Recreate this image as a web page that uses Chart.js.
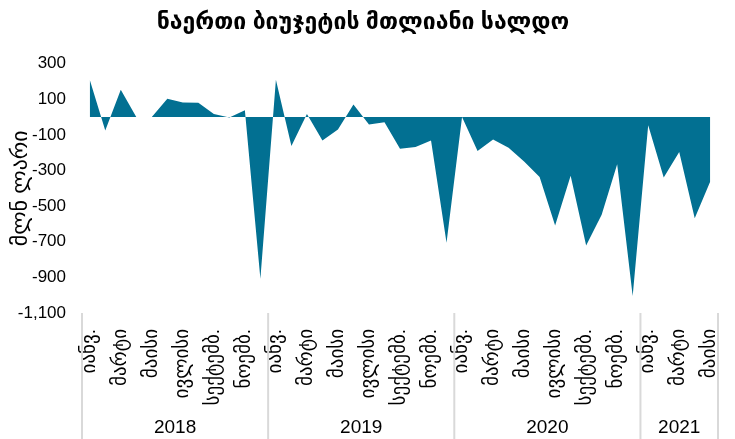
<!DOCTYPE html>
<html>
<head>
<meta charset="utf-8">
<script src="https://cdn.jsdelivr.net/npm/chart.js@4"></script>
<style>
html,body{margin:0;padding:0;background:#fff;}
#wrap{width:735px;height:439px;}
</style>
</head>
<body>
<div id="wrap"><canvas id="c" width="735" height="439"></canvas></div>
<script>
const titleText = 'ნაერთი ბიუჯეტის მთლიანი სალდო';
const yTitle = 'მლნ ლარი';
const monthNames = ['იანვ.','','მარტი','','მაისი','','ივლისი','','სექტემბ.','','ნოემბ.',''];
const years = ['2018','2019','2020','2021'];
const monthsPerYear = [12,12,12,5];
const yTicks = [300,100,-100,-300,-500,-700,-900,-1100];
const values2018 = [210,-75,153,0,0,103,82,80,17,-3,38,-908];
const values2019 = [210,-163,17,-131,-70,70,-42,-29,-178,-168,-131,-706];
const values2020 = [0,-191,-126,-172,-250,-336,-609,-330,-721,-548,-265,-1005];
const values2021 = [-46,-340,-196,-568,-362];

const labels = [];
years.forEach((y,i)=>{ for(let m=0;m<monthsPerYear[i];m++) labels.push(monthNames[m]); });
const values = [].concat(values2018, values2019, values2020, values2021);

const FONT = 'Liberation Sans, Arial, DejaVu Sans, sans-serif';

const yearPlugin = {
  id:'years',
  afterDraw(chart){
    const ctx = chart.ctx, xs = chart.scales.x, area = chart.chartArea;
    const step = xs.getPixelForValue(1) - xs.getPixelForValue(0);
    let start = 0;
    ctx.save();
    ctx.strokeStyle = '#d9d9d9';
    ctx.lineWidth = 2;
    ctx.fillStyle = '#000';
    ctx.font = '19px ' + FONT;
    ctx.textAlign = 'center';
    ctx.textBaseline = 'middle';
    const drawSep = (x)=>{ ctx.beginPath(); ctx.moveTo(x, area.bottom); ctx.lineTo(x, chart.height); ctx.stroke(); };
    years.forEach((y,i)=>{
      const x0 = xs.getPixelForValue(start) - step/2;
      const x1 = xs.getPixelForValue(start + monthsPerYear[i]-1) + step/2;
      drawSep(x0);
      if(i===years.length-1) drawSep(x1);
      ctx.fillText(y, (x0+x1)/2, 428);
      start += monthsPerYear[i];
    });
    ctx.restore();
  }
};

new Chart(document.getElementById('c'), {
  type:'line',
  data:{
    labels: labels,
    datasets:[{
      data: values,
      fill:'origin',
      backgroundColor:'#027092',
      borderColor:'#027092',
      borderWidth:0,
      pointRadius:0,
      tension:0
    }]
  },
  options:{
    responsive:false,
    animation:false,
    layout:{padding:{left:8,right:17,top:0,bottom:0}},
    plugins:{
      legend:{display:false},
      tooltip:{enabled:false},
      title:{display:true,text:titleText,color:'#000',font:{family:FONT,size:23,weight:'bold'},padding:{top:9,bottom:27}}
    },
    scales:{
      x:{
        offset:true,
        grid:{display:false},
        border:{display:false},
        ticks:{autoSkip:false,minRotation:90,maxRotation:90,color:'#000',font:{family:FONT,size:19},padding:8},
        afterFit(s){ s.height = 126; s.paddingLeft = 0; s.paddingRight = 0; }
      },
      y:{
        min:-1100,max:300,
        afterBuildTicks(s){ s.ticks = yTicks.map(v=>({value:v})); },
        grid:{
          drawTicks:false,
          color:(c)=> c.tick && c.tick.value===0 ? '#d9d9d9' : 'rgba(0,0,0,0)',
          lineWidth:2
        },
        border:{display:false},
        ticks:{color:'#000',font:{family:FONT,size:17},padding:16,
          callback:(v)=> v.toLocaleString('en-US')},
        title:{display:true,text:yTitle,color:'#000',font:{family:FONT,size:22},padding:{top:0,bottom:0}},
        afterFit(s){ s.width = 74; }
      }
    }
  },
  plugins:[yearPlugin]
});
</script>
</body>
</html>
